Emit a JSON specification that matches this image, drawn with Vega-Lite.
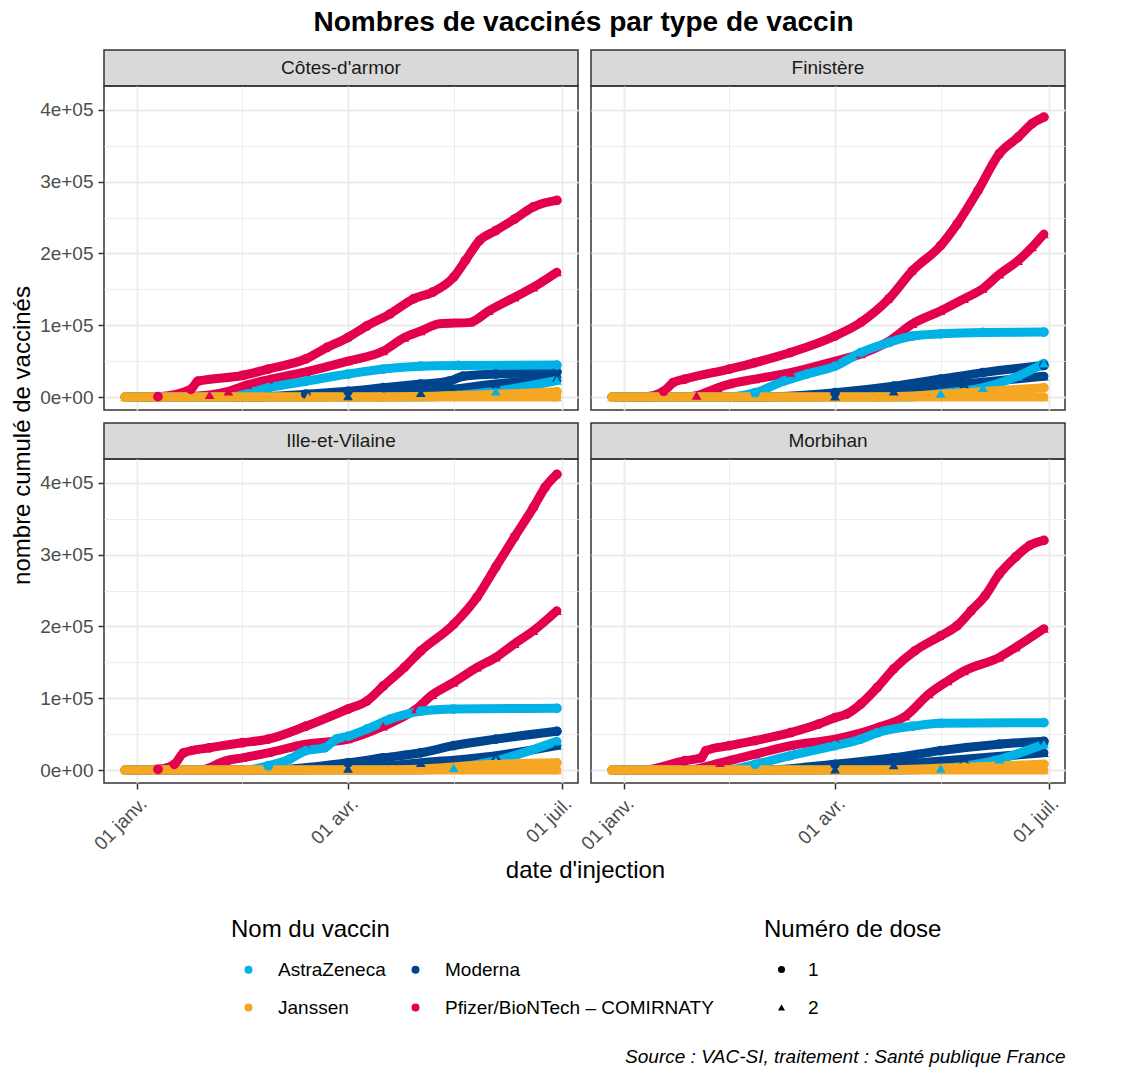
{
"$schema": "https://vega.github.io/schema/vega-lite/v6.json",
"background": "white",
"padding": {"left": 9, "top": 9, "right": 10, "bottom": 8},
"title": {"text": "Nombres de vaccinés par type de vaccin", "fontSize": 28, "fontWeight": "bold", "color": "#000000", "anchor": "middle", "frame": "bounds", "dx": 46, "offset": 12, "font": "Liberation Sans"},
"datasets": {"vac": [
{"dep":"22","date":"2020-12-27","vaccin":"Pfizer/BioNTech – COMIRNATY","dose":"1","n":0},
{"dep":"22","date":"2021-01-10","vaccin":"Pfizer/BioNTech – COMIRNATY","dose":"1","n":500},
{"dep":"22","date":"2021-01-24","vaccin":"Pfizer/BioNTech – COMIRNATY","dose":"1","n":10700},
{"dep":"22","date":"2021-01-27","vaccin":"Pfizer/BioNTech – COMIRNATY","dose":"1","n":22000},
{"dep":"22","date":"2021-02-15","vaccin":"Pfizer/BioNTech – COMIRNATY","dose":"1","n":30000},
{"dep":"22","date":"2021-02-26","vaccin":"Pfizer/BioNTech – COMIRNATY","dose":"1","n":39000},
{"dep":"22","date":"2021-03-14","vaccin":"Pfizer/BioNTech – COMIRNATY","dose":"1","n":53000},
{"dep":"22","date":"2021-03-23","vaccin":"Pfizer/BioNTech – COMIRNATY","dose":"1","n":69000},
{"dep":"22","date":"2021-04-01","vaccin":"Pfizer/BioNTech – COMIRNATY","dose":"1","n":83000},
{"dep":"22","date":"2021-04-09","vaccin":"Pfizer/BioNTech – COMIRNATY","dose":"1","n":99000},
{"dep":"22","date":"2021-04-19","vaccin":"Pfizer/BioNTech – COMIRNATY","dose":"1","n":116000},
{"dep":"22","date":"2021-04-29","vaccin":"Pfizer/BioNTech – COMIRNATY","dose":"1","n":137000},
{"dep":"22","date":"2021-05-07","vaccin":"Pfizer/BioNTech – COMIRNATY","dose":"1","n":146000},
{"dep":"22","date":"2021-05-16","vaccin":"Pfizer/BioNTech – COMIRNATY","dose":"1","n":167000},
{"dep":"22","date":"2021-05-21","vaccin":"Pfizer/BioNTech – COMIRNATY","dose":"1","n":190000},
{"dep":"22","date":"2021-05-27","vaccin":"Pfizer/BioNTech – COMIRNATY","dose":"1","n":218000},
{"dep":"22","date":"2021-06-03","vaccin":"Pfizer/BioNTech – COMIRNATY","dose":"1","n":232000},
{"dep":"22","date":"2021-06-11","vaccin":"Pfizer/BioNTech – COMIRNATY","dose":"1","n":248000},
{"dep":"22","date":"2021-06-19","vaccin":"Pfizer/BioNTech – COMIRNATY","dose":"1","n":265000},
{"dep":"22","date":"2021-06-29","vaccin":"Pfizer/BioNTech – COMIRNATY","dose":"1","n":274000},
{"dep":"22","date":"2020-12-27","vaccin":"Pfizer/BioNTech – COMIRNATY","dose":"2","n":0},
{"dep":"22","date":"2021-01-17","vaccin":"Pfizer/BioNTech – COMIRNATY","dose":"2","n":0},
{"dep":"22","date":"2021-02-01","vaccin":"Pfizer/BioNTech – COMIRNATY","dose":"2","n":3000},
{"dep":"22","date":"2021-02-09","vaccin":"Pfizer/BioNTech – COMIRNATY","dose":"2","n":8000},
{"dep":"22","date":"2021-02-17","vaccin":"Pfizer/BioNTech – COMIRNATY","dose":"2","n":17000},
{"dep":"22","date":"2021-02-26","vaccin":"Pfizer/BioNTech – COMIRNATY","dose":"2","n":24000},
{"dep":"22","date":"2021-03-14","vaccin":"Pfizer/BioNTech – COMIRNATY","dose":"2","n":35000},
{"dep":"22","date":"2021-04-01","vaccin":"Pfizer/BioNTech – COMIRNATY","dose":"2","n":50000},
{"dep":"22","date":"2021-04-16","vaccin":"Pfizer/BioNTech – COMIRNATY","dose":"2","n":64000},
{"dep":"22","date":"2021-04-25","vaccin":"Pfizer/BioNTech – COMIRNATY","dose":"2","n":83000},
{"dep":"22","date":"2021-05-02","vaccin":"Pfizer/BioNTech – COMIRNATY","dose":"2","n":92000},
{"dep":"22","date":"2021-05-10","vaccin":"Pfizer/BioNTech – COMIRNATY","dose":"2","n":102000},
{"dep":"22","date":"2021-05-23","vaccin":"Pfizer/BioNTech – COMIRNATY","dose":"2","n":104000},
{"dep":"22","date":"2021-05-31","vaccin":"Pfizer/BioNTech – COMIRNATY","dose":"2","n":120000},
{"dep":"22","date":"2021-06-11","vaccin":"Pfizer/BioNTech – COMIRNATY","dose":"2","n":139000},
{"dep":"22","date":"2021-06-19","vaccin":"Pfizer/BioNTech – COMIRNATY","dose":"2","n":153000},
{"dep":"22","date":"2021-06-29","vaccin":"Pfizer/BioNTech – COMIRNATY","dose":"2","n":174000},
{"dep":"22","date":"2020-12-27","vaccin":"Moderna","dose":"1","n":0},
{"dep":"22","date":"2021-02-20","vaccin":"Moderna","dose":"1","n":0},
{"dep":"22","date":"2021-03-14","vaccin":"Moderna","dose":"1","n":4000},
{"dep":"22","date":"2021-04-01","vaccin":"Moderna","dose":"1","n":8000},
{"dep":"22","date":"2021-04-16","vaccin":"Moderna","dose":"1","n":13000},
{"dep":"22","date":"2021-05-02","vaccin":"Moderna","dose":"1","n":18000},
{"dep":"22","date":"2021-05-14","vaccin":"Moderna","dose":"1","n":22000},
{"dep":"22","date":"2021-05-20","vaccin":"Moderna","dose":"1","n":29000},
{"dep":"22","date":"2021-06-03","vaccin":"Moderna","dose":"1","n":32000},
{"dep":"22","date":"2021-06-29","vaccin":"Moderna","dose":"1","n":35000},
{"dep":"22","date":"2020-12-27","vaccin":"Moderna","dose":"2","n":0},
{"dep":"22","date":"2021-03-10","vaccin":"Moderna","dose":"2","n":0},
{"dep":"22","date":"2021-04-01","vaccin":"Moderna","dose":"2","n":1400},
{"dep":"22","date":"2021-05-02","vaccin":"Moderna","dose":"2","n":6000},
{"dep":"22","date":"2021-06-03","vaccin":"Moderna","dose":"2","n":18000},
{"dep":"22","date":"2021-06-29","vaccin":"Moderna","dose":"2","n":27000},
{"dep":"22","date":"2020-12-27","vaccin":"AstraZeneca","dose":"1","n":0},
{"dep":"22","date":"2021-02-09","vaccin":"AstraZeneca","dose":"1","n":0},
{"dep":"22","date":"2021-02-26","vaccin":"AstraZeneca","dose":"1","n":13000},
{"dep":"22","date":"2021-03-14","vaccin":"AstraZeneca","dose":"1","n":22000},
{"dep":"22","date":"2021-04-01","vaccin":"AstraZeneca","dose":"1","n":32000},
{"dep":"22","date":"2021-04-16","vaccin":"AstraZeneca","dose":"1","n":39000},
{"dep":"22","date":"2021-05-02","vaccin":"AstraZeneca","dose":"1","n":43000},
{"dep":"22","date":"2021-05-18","vaccin":"AstraZeneca","dose":"1","n":44000},
{"dep":"22","date":"2021-06-29","vaccin":"AstraZeneca","dose":"1","n":44500},
{"dep":"22","date":"2020-12-27","vaccin":"AstraZeneca","dose":"2","n":0},
{"dep":"22","date":"2021-05-01","vaccin":"AstraZeneca","dose":"2","n":0},
{"dep":"22","date":"2021-06-03","vaccin":"AstraZeneca","dose":"2","n":8000},
{"dep":"22","date":"2021-06-29","vaccin":"AstraZeneca","dose":"2","n":23000},
{"dep":"22","date":"2020-12-27","vaccin":"Janssen","dose":"1","n":0},
{"dep":"22","date":"2021-04-15","vaccin":"Janssen","dose":"1","n":0},
{"dep":"22","date":"2021-05-18","vaccin":"Janssen","dose":"1","n":2000},
{"dep":"22","date":"2021-06-29","vaccin":"Janssen","dose":"1","n":7500},
{"dep":"22","date":"2020-12-27","vaccin":"Janssen","dose":"2","n":0},
{"dep":"22","date":"2021-03-15","vaccin":"Janssen","dose":"2","n":0},
{"dep":"22","date":"2021-06-29","vaccin":"Janssen","dose":"2","n":0},
{"dep":"29","date":"2020-12-27","vaccin":"Pfizer/BioNTech – COMIRNATY","dose":"1","n":0},
{"dep":"29","date":"2021-01-09","vaccin":"Pfizer/BioNTech – COMIRNATY","dose":"1","n":0},
{"dep":"29","date":"2021-01-18","vaccin":"Pfizer/BioNTech – COMIRNATY","dose":"1","n":8000},
{"dep":"29","date":"2021-01-22","vaccin":"Pfizer/BioNTech – COMIRNATY","dose":"1","n":20000},
{"dep":"29","date":"2021-01-27","vaccin":"Pfizer/BioNTech – COMIRNATY","dose":"1","n":25000},
{"dep":"29","date":"2021-02-15","vaccin":"Pfizer/BioNTech – COMIRNATY","dose":"1","n":39000},
{"dep":"29","date":"2021-02-26","vaccin":"Pfizer/BioNTech – COMIRNATY","dose":"1","n":48000},
{"dep":"29","date":"2021-03-13","vaccin":"Pfizer/BioNTech – COMIRNATY","dose":"1","n":62000},
{"dep":"29","date":"2021-04-01","vaccin":"Pfizer/BioNTech – COMIRNATY","dose":"1","n":85000},
{"dep":"29","date":"2021-04-12","vaccin":"Pfizer/BioNTech – COMIRNATY","dose":"1","n":104000},
{"dep":"29","date":"2021-04-24","vaccin":"Pfizer/BioNTech – COMIRNATY","dose":"1","n":137000},
{"dep":"29","date":"2021-05-04","vaccin":"Pfizer/BioNTech – COMIRNATY","dose":"1","n":176000},
{"dep":"29","date":"2021-05-16","vaccin":"Pfizer/BioNTech – COMIRNATY","dose":"1","n":211000},
{"dep":"29","date":"2021-05-23","vaccin":"Pfizer/BioNTech – COMIRNATY","dose":"1","n":241000},
{"dep":"29","date":"2021-06-01","vaccin":"Pfizer/BioNTech – COMIRNATY","dose":"1","n":288000},
{"dep":"29","date":"2021-06-10","vaccin":"Pfizer/BioNTech – COMIRNATY","dose":"1","n":339000},
{"dep":"29","date":"2021-06-18","vaccin":"Pfizer/BioNTech – COMIRNATY","dose":"1","n":362000},
{"dep":"29","date":"2021-06-24","vaccin":"Pfizer/BioNTech – COMIRNATY","dose":"1","n":381000},
{"dep":"29","date":"2021-06-29","vaccin":"Pfizer/BioNTech – COMIRNATY","dose":"1","n":390000},
{"dep":"29","date":"2020-12-27","vaccin":"Pfizer/BioNTech – COMIRNATY","dose":"2","n":0},
{"dep":"29","date":"2021-01-28","vaccin":"Pfizer/BioNTech – COMIRNATY","dose":"2","n":0},
{"dep":"29","date":"2021-02-01","vaccin":"Pfizer/BioNTech – COMIRNATY","dose":"2","n":2000},
{"dep":"29","date":"2021-02-10","vaccin":"Pfizer/BioNTech – COMIRNATY","dose":"2","n":13000},
{"dep":"29","date":"2021-02-15","vaccin":"Pfizer/BioNTech – COMIRNATY","dose":"2","n":18000},
{"dep":"29","date":"2021-02-26","vaccin":"Pfizer/BioNTech – COMIRNATY","dose":"2","n":25000},
{"dep":"29","date":"2021-03-13","vaccin":"Pfizer/BioNTech – COMIRNATY","dose":"2","n":34000},
{"dep":"29","date":"2021-04-01","vaccin":"Pfizer/BioNTech – COMIRNATY","dose":"2","n":50000},
{"dep":"29","date":"2021-04-12","vaccin":"Pfizer/BioNTech – COMIRNATY","dose":"2","n":60000},
{"dep":"29","date":"2021-04-24","vaccin":"Pfizer/BioNTech – COMIRNATY","dose":"2","n":78000},
{"dep":"29","date":"2021-05-04","vaccin":"Pfizer/BioNTech – COMIRNATY","dose":"2","n":102000},
{"dep":"29","date":"2021-05-16","vaccin":"Pfizer/BioNTech – COMIRNATY","dose":"2","n":120000},
{"dep":"29","date":"2021-05-26","vaccin":"Pfizer/BioNTech – COMIRNATY","dose":"2","n":137000},
{"dep":"29","date":"2021-06-03","vaccin":"Pfizer/BioNTech – COMIRNATY","dose":"2","n":151000},
{"dep":"29","date":"2021-06-10","vaccin":"Pfizer/BioNTech – COMIRNATY","dose":"2","n":171000},
{"dep":"29","date":"2021-06-18","vaccin":"Pfizer/BioNTech – COMIRNATY","dose":"2","n":190000},
{"dep":"29","date":"2021-06-24","vaccin":"Pfizer/BioNTech – COMIRNATY","dose":"2","n":209000},
{"dep":"29","date":"2021-06-29","vaccin":"Pfizer/BioNTech – COMIRNATY","dose":"2","n":227000},
{"dep":"29","date":"2020-12-27","vaccin":"Moderna","dose":"1","n":0},
{"dep":"29","date":"2021-03-01","vaccin":"Moderna","dose":"1","n":0},
{"dep":"29","date":"2021-04-01","vaccin":"Moderna","dose":"1","n":6000},
{"dep":"29","date":"2021-04-26","vaccin":"Moderna","dose":"1","n":15000},
{"dep":"29","date":"2021-05-16","vaccin":"Moderna","dose":"1","n":25000},
{"dep":"29","date":"2021-06-03","vaccin":"Moderna","dose":"1","n":34000},
{"dep":"29","date":"2021-06-29","vaccin":"Moderna","dose":"1","n":44000},
{"dep":"29","date":"2020-12-27","vaccin":"Moderna","dose":"2","n":0},
{"dep":"29","date":"2021-03-20","vaccin":"Moderna","dose":"2","n":0},
{"dep":"29","date":"2021-04-01","vaccin":"Moderna","dose":"2","n":1000},
{"dep":"29","date":"2021-04-26","vaccin":"Moderna","dose":"2","n":8000},
{"dep":"29","date":"2021-05-26","vaccin":"Moderna","dose":"2","n":18000},
{"dep":"29","date":"2021-06-29","vaccin":"Moderna","dose":"2","n":29000},
{"dep":"29","date":"2020-12-27","vaccin":"AstraZeneca","dose":"1","n":0},
{"dep":"29","date":"2021-02-14","vaccin":"AstraZeneca","dose":"1","n":0},
{"dep":"29","date":"2021-02-26","vaccin":"AstraZeneca","dose":"1","n":6000},
{"dep":"29","date":"2021-03-10","vaccin":"AstraZeneca","dose":"1","n":22000},
{"dep":"29","date":"2021-03-20","vaccin":"AstraZeneca","dose":"1","n":32000},
{"dep":"29","date":"2021-04-01","vaccin":"AstraZeneca","dose":"1","n":43000},
{"dep":"29","date":"2021-04-12","vaccin":"AstraZeneca","dose":"1","n":62000},
{"dep":"29","date":"2021-04-24","vaccin":"AstraZeneca","dose":"1","n":76000},
{"dep":"29","date":"2021-05-04","vaccin":"AstraZeneca","dose":"1","n":85000},
{"dep":"29","date":"2021-05-16","vaccin":"AstraZeneca","dose":"1","n":88000},
{"dep":"29","date":"2021-06-03","vaccin":"AstraZeneca","dose":"1","n":90000},
{"dep":"29","date":"2021-06-29","vaccin":"AstraZeneca","dose":"1","n":90500},
{"dep":"29","date":"2020-12-27","vaccin":"AstraZeneca","dose":"2","n":0},
{"dep":"29","date":"2021-05-01","vaccin":"AstraZeneca","dose":"2","n":0},
{"dep":"29","date":"2021-05-16","vaccin":"AstraZeneca","dose":"2","n":5000},
{"dep":"29","date":"2021-06-03","vaccin":"AstraZeneca","dose":"2","n":13000},
{"dep":"29","date":"2021-06-18","vaccin":"AstraZeneca","dose":"2","n":29000},
{"dep":"29","date":"2021-06-29","vaccin":"AstraZeneca","dose":"2","n":47000},
{"dep":"29","date":"2020-12-27","vaccin":"Janssen","dose":"1","n":0},
{"dep":"29","date":"2021-04-20","vaccin":"Janssen","dose":"1","n":0},
{"dep":"29","date":"2021-05-26","vaccin":"Janssen","dose":"1","n":6000},
{"dep":"29","date":"2021-06-29","vaccin":"Janssen","dose":"1","n":13000},
{"dep":"29","date":"2020-12-27","vaccin":"Janssen","dose":"2","n":0},
{"dep":"29","date":"2021-03-15","vaccin":"Janssen","dose":"2","n":0},
{"dep":"29","date":"2021-06-29","vaccin":"Janssen","dose":"2","n":0},
{"dep":"35","date":"2020-12-27","vaccin":"Pfizer/BioNTech – COMIRNATY","dose":"1","n":0},
{"dep":"35","date":"2021-01-10","vaccin":"Pfizer/BioNTech – COMIRNATY","dose":"1","n":1000},
{"dep":"35","date":"2021-01-17","vaccin":"Pfizer/BioNTech – COMIRNATY","dose":"1","n":8000},
{"dep":"35","date":"2021-01-21","vaccin":"Pfizer/BioNTech – COMIRNATY","dose":"1","n":24000},
{"dep":"35","date":"2021-02-01","vaccin":"Pfizer/BioNTech – COMIRNATY","dose":"1","n":31000},
{"dep":"35","date":"2021-02-15","vaccin":"Pfizer/BioNTech – COMIRNATY","dose":"1","n":38000},
{"dep":"35","date":"2021-02-26","vaccin":"Pfizer/BioNTech – COMIRNATY","dose":"1","n":43000},
{"dep":"35","date":"2021-03-14","vaccin":"Pfizer/BioNTech – COMIRNATY","dose":"1","n":61000},
{"dep":"35","date":"2021-04-01","vaccin":"Pfizer/BioNTech – COMIRNATY","dose":"1","n":85000},
{"dep":"35","date":"2021-04-09","vaccin":"Pfizer/BioNTech – COMIRNATY","dose":"1","n":96000},
{"dep":"35","date":"2021-04-16","vaccin":"Pfizer/BioNTech – COMIRNATY","dose":"1","n":117000},
{"dep":"35","date":"2021-04-25","vaccin":"Pfizer/BioNTech – COMIRNATY","dose":"1","n":143000},
{"dep":"35","date":"2021-05-02","vaccin":"Pfizer/BioNTech – COMIRNATY","dose":"1","n":166000},
{"dep":"35","date":"2021-05-16","vaccin":"Pfizer/BioNTech – COMIRNATY","dose":"1","n":203000},
{"dep":"35","date":"2021-05-26","vaccin":"Pfizer/BioNTech – COMIRNATY","dose":"1","n":241000},
{"dep":"35","date":"2021-06-03","vaccin":"Pfizer/BioNTech – COMIRNATY","dose":"1","n":283000},
{"dep":"35","date":"2021-06-11","vaccin":"Pfizer/BioNTech – COMIRNATY","dose":"1","n":325000},
{"dep":"35","date":"2021-06-19","vaccin":"Pfizer/BioNTech – COMIRNATY","dose":"1","n":366000},
{"dep":"35","date":"2021-06-24","vaccin":"Pfizer/BioNTech – COMIRNATY","dose":"1","n":394000},
{"dep":"35","date":"2021-06-29","vaccin":"Pfizer/BioNTech – COMIRNATY","dose":"1","n":412000},
{"dep":"35","date":"2020-12-27","vaccin":"Pfizer/BioNTech – COMIRNATY","dose":"2","n":0},
{"dep":"35","date":"2021-01-28","vaccin":"Pfizer/BioNTech – COMIRNATY","dose":"2","n":0},
{"dep":"35","date":"2021-02-08","vaccin":"Pfizer/BioNTech – COMIRNATY","dose":"2","n":13000},
{"dep":"35","date":"2021-02-15","vaccin":"Pfizer/BioNTech – COMIRNATY","dose":"2","n":17000},
{"dep":"35","date":"2021-02-26","vaccin":"Pfizer/BioNTech – COMIRNATY","dose":"2","n":24000},
{"dep":"35","date":"2021-03-14","vaccin":"Pfizer/BioNTech – COMIRNATY","dose":"2","n":36000},
{"dep":"35","date":"2021-04-01","vaccin":"Pfizer/BioNTech – COMIRNATY","dose":"2","n":43000},
{"dep":"35","date":"2021-04-16","vaccin":"Pfizer/BioNTech – COMIRNATY","dose":"2","n":61000},
{"dep":"35","date":"2021-04-30","vaccin":"Pfizer/BioNTech – COMIRNATY","dose":"2","n":85000},
{"dep":"35","date":"2021-05-07","vaccin":"Pfizer/BioNTech – COMIRNATY","dose":"2","n":105000},
{"dep":"35","date":"2021-05-16","vaccin":"Pfizer/BioNTech – COMIRNATY","dose":"2","n":122000},
{"dep":"35","date":"2021-05-26","vaccin":"Pfizer/BioNTech – COMIRNATY","dose":"2","n":143000},
{"dep":"35","date":"2021-06-03","vaccin":"Pfizer/BioNTech – COMIRNATY","dose":"2","n":157000},
{"dep":"35","date":"2021-06-11","vaccin":"Pfizer/BioNTech – COMIRNATY","dose":"2","n":176000},
{"dep":"35","date":"2021-06-19","vaccin":"Pfizer/BioNTech – COMIRNATY","dose":"2","n":194000},
{"dep":"35","date":"2021-06-29","vaccin":"Pfizer/BioNTech – COMIRNATY","dose":"2","n":222000},
{"dep":"35","date":"2020-12-27","vaccin":"Moderna","dose":"1","n":0},
{"dep":"35","date":"2021-02-25","vaccin":"Moderna","dose":"1","n":0},
{"dep":"35","date":"2021-04-01","vaccin":"Moderna","dose":"1","n":10000},
{"dep":"35","date":"2021-04-16","vaccin":"Moderna","dose":"1","n":17000},
{"dep":"35","date":"2021-05-02","vaccin":"Moderna","dose":"1","n":24000},
{"dep":"35","date":"2021-05-16","vaccin":"Moderna","dose":"1","n":34000},
{"dep":"35","date":"2021-06-03","vaccin":"Moderna","dose":"1","n":43000},
{"dep":"35","date":"2021-06-29","vaccin":"Moderna","dose":"1","n":54000},
{"dep":"35","date":"2020-12-27","vaccin":"Moderna","dose":"2","n":0},
{"dep":"35","date":"2021-03-10","vaccin":"Moderna","dose":"2","n":0},
{"dep":"35","date":"2021-04-01","vaccin":"Moderna","dose":"2","n":2000},
{"dep":"35","date":"2021-05-02","vaccin":"Moderna","dose":"2","n":10000},
{"dep":"35","date":"2021-06-03","vaccin":"Moderna","dose":"2","n":20000},
{"dep":"35","date":"2021-06-29","vaccin":"Moderna","dose":"2","n":34000},
{"dep":"35","date":"2020-12-27","vaccin":"AstraZeneca","dose":"1","n":0},
{"dep":"35","date":"2021-02-16","vaccin":"AstraZeneca","dose":"1","n":0},
{"dep":"35","date":"2021-02-26","vaccin":"AstraZeneca","dose":"1","n":6000},
{"dep":"35","date":"2021-03-07","vaccin":"AstraZeneca","dose":"1","n":15000},
{"dep":"35","date":"2021-03-14","vaccin":"AstraZeneca","dose":"1","n":27000},
{"dep":"35","date":"2021-03-22","vaccin":"AstraZeneca","dose":"1","n":31000},
{"dep":"35","date":"2021-03-27","vaccin":"AstraZeneca","dose":"1","n":43000},
{"dep":"35","date":"2021-04-01","vaccin":"AstraZeneca","dose":"1","n":47000},
{"dep":"35","date":"2021-04-09","vaccin":"AstraZeneca","dose":"1","n":57000},
{"dep":"35","date":"2021-04-19","vaccin":"AstraZeneca","dose":"1","n":71000},
{"dep":"35","date":"2021-05-02","vaccin":"AstraZeneca","dose":"1","n":82000},
{"dep":"35","date":"2021-05-16","vaccin":"AstraZeneca","dose":"1","n":85000},
{"dep":"35","date":"2021-06-29","vaccin":"AstraZeneca","dose":"1","n":86000},
{"dep":"35","date":"2020-12-27","vaccin":"AstraZeneca","dose":"2","n":0},
{"dep":"35","date":"2021-05-01","vaccin":"AstraZeneca","dose":"2","n":0},
{"dep":"35","date":"2021-05-16","vaccin":"AstraZeneca","dose":"2","n":3000},
{"dep":"35","date":"2021-06-03","vaccin":"AstraZeneca","dose":"2","n":13000},
{"dep":"35","date":"2021-06-29","vaccin":"AstraZeneca","dose":"2","n":40000},
{"dep":"35","date":"2020-12-27","vaccin":"Janssen","dose":"1","n":0},
{"dep":"35","date":"2021-04-20","vaccin":"Janssen","dose":"1","n":0},
{"dep":"35","date":"2021-06-03","vaccin":"Janssen","dose":"1","n":8000},
{"dep":"35","date":"2021-06-29","vaccin":"Janssen","dose":"1","n":10000},
{"dep":"35","date":"2020-12-27","vaccin":"Janssen","dose":"2","n":0},
{"dep":"35","date":"2021-03-15","vaccin":"Janssen","dose":"2","n":0},
{"dep":"35","date":"2021-06-29","vaccin":"Janssen","dose":"2","n":0},
{"dep":"56","date":"2020-12-27","vaccin":"Pfizer/BioNTech – COMIRNATY","dose":"1","n":0},
{"dep":"56","date":"2021-01-09","vaccin":"Pfizer/BioNTech – COMIRNATY","dose":"1","n":0},
{"dep":"56","date":"2021-01-27","vaccin":"Pfizer/BioNTech – COMIRNATY","dose":"1","n":13000},
{"dep":"56","date":"2021-02-03","vaccin":"Pfizer/BioNTech – COMIRNATY","dose":"1","n":17000},
{"dep":"56","date":"2021-02-05","vaccin":"Pfizer/BioNTech – COMIRNATY","dose":"1","n":27000},
{"dep":"56","date":"2021-02-15","vaccin":"Pfizer/BioNTech – COMIRNATY","dose":"1","n":34000},
{"dep":"56","date":"2021-02-26","vaccin":"Pfizer/BioNTech – COMIRNATY","dose":"1","n":41000},
{"dep":"56","date":"2021-03-13","vaccin":"Pfizer/BioNTech – COMIRNATY","dose":"1","n":52000},
{"dep":"56","date":"2021-03-25","vaccin":"Pfizer/BioNTech – COMIRNATY","dose":"1","n":64000},
{"dep":"56","date":"2021-04-01","vaccin":"Pfizer/BioNTech – COMIRNATY","dose":"1","n":73000},
{"dep":"56","date":"2021-04-06","vaccin":"Pfizer/BioNTech – COMIRNATY","dose":"1","n":78000},
{"dep":"56","date":"2021-04-12","vaccin":"Pfizer/BioNTech – COMIRNATY","dose":"1","n":92000},
{"dep":"56","date":"2021-04-19","vaccin":"Pfizer/BioNTech – COMIRNATY","dose":"1","n":115000},
{"dep":"56","date":"2021-04-26","vaccin":"Pfizer/BioNTech – COMIRNATY","dose":"1","n":141000},
{"dep":"56","date":"2021-05-05","vaccin":"Pfizer/BioNTech – COMIRNATY","dose":"1","n":166000},
{"dep":"56","date":"2021-05-16","vaccin":"Pfizer/BioNTech – COMIRNATY","dose":"1","n":187000},
{"dep":"56","date":"2021-05-23","vaccin":"Pfizer/BioNTech – COMIRNATY","dose":"1","n":201000},
{"dep":"56","date":"2021-05-29","vaccin":"Pfizer/BioNTech – COMIRNATY","dose":"1","n":222000},
{"dep":"56","date":"2021-06-04","vaccin":"Pfizer/BioNTech – COMIRNATY","dose":"1","n":243000},
{"dep":"56","date":"2021-06-10","vaccin":"Pfizer/BioNTech – COMIRNATY","dose":"1","n":273000},
{"dep":"56","date":"2021-06-17","vaccin":"Pfizer/BioNTech – COMIRNATY","dose":"1","n":297000},
{"dep":"56","date":"2021-06-23","vaccin":"Pfizer/BioNTech – COMIRNATY","dose":"1","n":313000},
{"dep":"56","date":"2021-06-29","vaccin":"Pfizer/BioNTech – COMIRNATY","dose":"1","n":320000},
{"dep":"56","date":"2020-12-27","vaccin":"Pfizer/BioNTech – COMIRNATY","dose":"2","n":0},
{"dep":"56","date":"2021-01-28","vaccin":"Pfizer/BioNTech – COMIRNATY","dose":"2","n":0},
{"dep":"56","date":"2021-02-11","vaccin":"Pfizer/BioNTech – COMIRNATY","dose":"2","n":10000},
{"dep":"56","date":"2021-02-26","vaccin":"Pfizer/BioNTech – COMIRNATY","dose":"2","n":22000},
{"dep":"56","date":"2021-03-13","vaccin":"Pfizer/BioNTech – COMIRNATY","dose":"2","n":34000},
{"dep":"56","date":"2021-04-01","vaccin":"Pfizer/BioNTech – COMIRNATY","dose":"2","n":43000},
{"dep":"56","date":"2021-04-19","vaccin":"Pfizer/BioNTech – COMIRNATY","dose":"2","n":59000},
{"dep":"56","date":"2021-05-01","vaccin":"Pfizer/BioNTech – COMIRNATY","dose":"2","n":75000},
{"dep":"56","date":"2021-05-11","vaccin":"Pfizer/BioNTech – COMIRNATY","dose":"2","n":106000},
{"dep":"56","date":"2021-05-19","vaccin":"Pfizer/BioNTech – COMIRNATY","dose":"2","n":124000},
{"dep":"56","date":"2021-05-26","vaccin":"Pfizer/BioNTech – COMIRNATY","dose":"2","n":138000},
{"dep":"56","date":"2021-06-10","vaccin":"Pfizer/BioNTech – COMIRNATY","dose":"2","n":157000},
{"dep":"56","date":"2021-06-17","vaccin":"Pfizer/BioNTech – COMIRNATY","dose":"2","n":171000},
{"dep":"56","date":"2021-06-29","vaccin":"Pfizer/BioNTech – COMIRNATY","dose":"2","n":197000},
{"dep":"56","date":"2020-12-27","vaccin":"Moderna","dose":"1","n":0},
{"dep":"56","date":"2021-03-01","vaccin":"Moderna","dose":"1","n":0},
{"dep":"56","date":"2021-04-01","vaccin":"Moderna","dose":"1","n":8000},
{"dep":"56","date":"2021-04-26","vaccin":"Moderna","dose":"1","n":17000},
{"dep":"56","date":"2021-05-16","vaccin":"Moderna","dose":"1","n":27000},
{"dep":"56","date":"2021-06-10","vaccin":"Moderna","dose":"1","n":36000},
{"dep":"56","date":"2021-06-29","vaccin":"Moderna","dose":"1","n":40000},
{"dep":"56","date":"2020-12-27","vaccin":"Moderna","dose":"2","n":0},
{"dep":"56","date":"2021-03-20","vaccin":"Moderna","dose":"2","n":0},
{"dep":"56","date":"2021-04-01","vaccin":"Moderna","dose":"2","n":1000},
{"dep":"56","date":"2021-04-26","vaccin":"Moderna","dose":"2","n":7000},
{"dep":"56","date":"2021-05-26","vaccin":"Moderna","dose":"2","n":15000},
{"dep":"56","date":"2021-06-29","vaccin":"Moderna","dose":"2","n":24000},
{"dep":"56","date":"2020-12-27","vaccin":"AstraZeneca","dose":"1","n":0},
{"dep":"56","date":"2021-02-14","vaccin":"AstraZeneca","dose":"1","n":0},
{"dep":"56","date":"2021-02-26","vaccin":"AstraZeneca","dose":"1","n":8000},
{"dep":"56","date":"2021-03-13","vaccin":"AstraZeneca","dose":"1","n":20000},
{"dep":"56","date":"2021-04-01","vaccin":"AstraZeneca","dose":"1","n":34000},
{"dep":"56","date":"2021-04-12","vaccin":"AstraZeneca","dose":"1","n":43000},
{"dep":"56","date":"2021-04-19","vaccin":"AstraZeneca","dose":"1","n":52000},
{"dep":"56","date":"2021-05-04","vaccin":"AstraZeneca","dose":"1","n":61000},
{"dep":"56","date":"2021-05-16","vaccin":"AstraZeneca","dose":"1","n":65000},
{"dep":"56","date":"2021-06-29","vaccin":"AstraZeneca","dose":"1","n":66000},
{"dep":"56","date":"2020-12-27","vaccin":"AstraZeneca","dose":"2","n":0},
{"dep":"56","date":"2021-05-01","vaccin":"AstraZeneca","dose":"2","n":0},
{"dep":"56","date":"2021-05-16","vaccin":"AstraZeneca","dose":"2","n":2000},
{"dep":"56","date":"2021-06-10","vaccin":"AstraZeneca","dose":"2","n":15000},
{"dep":"56","date":"2021-06-29","vaccin":"AstraZeneca","dose":"2","n":36000},
{"dep":"56","date":"2020-12-27","vaccin":"Janssen","dose":"1","n":0},
{"dep":"56","date":"2021-04-20","vaccin":"Janssen","dose":"1","n":0},
{"dep":"56","date":"2021-05-26","vaccin":"Janssen","dose":"1","n":4000},
{"dep":"56","date":"2021-06-29","vaccin":"Janssen","dose":"1","n":8000},
{"dep":"56","date":"2020-12-27","vaccin":"Janssen","dose":"2","n":0},
{"dep":"56","date":"2021-03-15","vaccin":"Janssen","dose":"2","n":0},
{"dep":"56","date":"2021-06-29","vaccin":"Janssen","dose":"2","n":0}
]},
"columns": 2,
"spacing": {"row": 0, "column": 13},
"bounds": "flush",
"concat": [
 {"data": {"values": [{"lab": "Côtes-d'armor"}]}, "width": 474, "height": 36,
  "view": {"fill": "#D9D9D9", "stroke": "#333333", "strokeWidth": 1.5},
  "mark": {"type": "text", "fontSize": 19, "color": "#1A1A1A", "font": "Liberation Sans"},
  "encoding": {"text": {"field": "lab"}}},
 {"data": {"values": [{"lab": "Finistère"}]}, "width": 474, "height": 36,
  "view": {"fill": "#D9D9D9", "stroke": "#333333", "strokeWidth": 1.5},
  "mark": {"type": "text", "fontSize": 19, "color": "#1A1A1A", "font": "Liberation Sans"},
  "encoding": {"text": {"field": "lab"}}},
 {"width": 474, "height": 324,
  "view": {"stroke": "#333333", "strokeWidth": 1.5},
  "data": {"name": "vac"},
  "transform": [{"filter": {"field": "dep", "equal": "22"}}],
  "encoding": {
   "x": {"field": "date", "type": "temporal", "scale": {"type": "utc", "domain": [{"year":2020,"month":12,"date":18,"utc":true},{"year":2021,"month":7,"date":8,"utc":true}]},
     "axis": {"title": null, "labels": false, "ticks": false,
       "values": [{"year":2021,"month":1,"date":1,"utc":true},{"year":2021,"month":2,"date":15,"utc":true},{"year":2021,"month":4,"date":1,"utc":true},{"year":2021,"month":5,"date":16,"utc":true},{"year":2021,"month":7,"date":1,"utc":true}],
       "gridWidth": {"condition": {"test": "utcmonth(datum.value) % 3 === 0", "value": 1.8}, "value": 0.9}}},
   "y": {"field": "n", "type": "quantitative", "scale": {"domain": [-18100, 433400], "nice": false, "zero": false},
     "axis": {"title": "nombre cumulé de vaccinés", "titleX": -70, "titleY": 349, "titleAngle": 270, "titleAlign": "center", "titleBaseline": "bottom",
       "values": [0,50000,100000,150000,200000,250000,300000,350000,400000],
       "labelExpr": "datum.value % 100000 === 0 ? (datum.value === 0 ? '0e+00' : (datum.value / 100000) + 'e+05') : ''",
       "tickOpacity": {"condition": {"test": "datum.value % 100000 === 0", "value": 1}, "value": 0},
       "gridWidth": {"condition": {"test": "datum.value % 100000 === 0", "value": 1.8}, "value": 0.9}}}
  },
  "layer": [
   {"mark": {"type": "line", "strokeWidth": 9, "strokeCap": "round", "strokeJoin": "round", "interpolate": "monotone"},
    "encoding": {"stroke": {"field": "vaccin", "type": "nominal", "scale": {"domain": ["Pfizer/BioNTech – COMIRNATY","Janssen","Moderna","AstraZeneca"], "range": ["#E2004F","#F5A623","#00448E","#00B2E5"]}, "legend": null},
     "detail": {"field": "dose"}}},
   {"transform": [{"filter": "datum.n > 0 || datum.vaccin === 'Janssen'"}],
    "mark": {"type": "point", "filled": true, "size": 95, "opacity": 1},
    "encoding": {"color": {"field": "vaccin", "type": "nominal", "scale": {"domain": ["AstraZeneca","Janssen","Moderna","Pfizer/BioNTech – COMIRNATY"], "range": ["#00B2E5","#F5A623","#00448E","#E2004F"]},
       "legend": {"title": "Nom du vaccin", "legendX": 127, "legendY": 868, "columns": 2, "symbolType": "circle", "labelOffset": 20, "columnPadding": 12}},
     "shape": {"field": "dose", "type": "nominal", "scale": {"domain": ["1","2"], "range": ["circle","triangle-up"]},
       "legend": {"title": "Numéro de dose", "legendX": 660, "legendY": 868, "symbolFillColor": "#000000", "symbolStrokeColor": "#000000", "symbolSize": 50, "labelOffset": 17}}}}
  ]},
 {"width": 474, "height": 324,
  "view": {"stroke": "#333333", "strokeWidth": 1.5},
  "data": {"name": "vac"},
  "transform": [{"filter": {"field": "dep", "equal": "29"}}],
  "encoding": {
   "x": {"field": "date", "type": "temporal", "scale": {"type": "utc", "domain": [{"year":2020,"month":12,"date":18,"utc":true},{"year":2021,"month":7,"date":8,"utc":true}]},
     "axis": {"title": null, "labels": false, "ticks": false,
       "values": [{"year":2021,"month":1,"date":1,"utc":true},{"year":2021,"month":2,"date":15,"utc":true},{"year":2021,"month":4,"date":1,"utc":true},{"year":2021,"month":5,"date":16,"utc":true},{"year":2021,"month":7,"date":1,"utc":true}],
       "gridWidth": {"condition": {"test": "utcmonth(datum.value) % 3 === 0", "value": 1.8}, "value": 0.9}}},
   "y": {"field": "n", "type": "quantitative", "scale": {"domain": [-18100, 433400], "nice": false, "zero": false},
     "axis": {"title": null, "labels": false, "ticks": false,
       "values": [0,50000,100000,150000,200000,250000,300000,350000,400000],
       "gridWidth": {"condition": {"test": "datum.value % 100000 === 0", "value": 1.8}, "value": 0.9}}}
  },
  "layer": [
   {"mark": {"type": "line", "strokeWidth": 9, "strokeCap": "round", "strokeJoin": "round", "interpolate": "monotone"},
    "encoding": {"stroke": {"field": "vaccin", "type": "nominal", "scale": {"domain": ["Pfizer/BioNTech – COMIRNATY","Janssen","Moderna","AstraZeneca"], "range": ["#E2004F","#F5A623","#00448E","#00B2E5"]}, "legend": null},
     "detail": {"field": "dose"}}},
   {"transform": [{"filter": "datum.n > 0 || datum.vaccin === 'Janssen'"}],
    "mark": {"type": "point", "filled": true, "size": 95, "opacity": 1},
    "encoding": {"color": {"field": "vaccin", "type": "nominal", "scale": {"domain": ["AstraZeneca","Janssen","Moderna","Pfizer/BioNTech – COMIRNATY"], "range": ["#00B2E5","#F5A623","#00448E","#E2004F"]}},
     "shape": {"field": "dose", "type": "nominal", "scale": {"domain": ["1","2"], "range": ["circle","triangle-up"]}}}}
  ]},
 {"width": 474, "height": 13, "data": {"values": [{"lab": ""}]}, "mark": {"type": "text"}, "encoding": {"text": {"field": "lab"}}},
 {"width": 474, "height": 13, "data": {"values": [{"lab": ""}]}, "mark": {"type": "text"}, "encoding": {"text": {"field": "lab"}}},
 {"data": {"values": [{"lab": "Ille-et-Vilaine"}]}, "width": 474, "height": 36,
  "view": {"fill": "#D9D9D9", "stroke": "#333333", "strokeWidth": 1.5},
  "mark": {"type": "text", "fontSize": 19, "color": "#1A1A1A", "font": "Liberation Sans"},
  "encoding": {"text": {"field": "lab"}}},
 {"data": {"values": [{"lab": "Morbihan"}]}, "width": 474, "height": 36,
  "view": {"fill": "#D9D9D9", "stroke": "#333333", "strokeWidth": 1.5},
  "mark": {"type": "text", "fontSize": 19, "color": "#1A1A1A", "font": "Liberation Sans"},
  "encoding": {"text": {"field": "lab"}}},
 {"width": 474, "height": 324,
  "view": {"stroke": "#333333", "strokeWidth": 1.5},
  "data": {"name": "vac"},
  "transform": [{"filter": {"field": "dep", "equal": "35"}}],
  "encoding": {
   "x": {"field": "date", "type": "temporal", "scale": {"type": "utc", "domain": [{"year":2020,"month":12,"date":18,"utc":true},{"year":2021,"month":7,"date":8,"utc":true}]},
     "axis": {"title": "date d'injection", "titleX": 481, "titleY": 87, "titleAlign": "center", "titleBaseline": "middle",
       "values": [{"year":2021,"month":1,"date":1,"utc":true},{"year":2021,"month":2,"date":15,"utc":true},{"year":2021,"month":4,"date":1,"utc":true},{"year":2021,"month":5,"date":16,"utc":true},{"year":2021,"month":7,"date":1,"utc":true}],
       "labelExpr": "utcmonth(datum.value) === 0 ? '01 janv.' : utcmonth(datum.value) === 3 ? '01 avr.' : utcmonth(datum.value) === 6 ? '01 juil.' : ''",
       "labelAngle": -45, "labelAlign": "right", "labelBaseline": "top",
       "tickOpacity": {"condition": {"test": "utcmonth(datum.value) % 3 === 0", "value": 1}, "value": 0},
       "gridWidth": {"condition": {"test": "utcmonth(datum.value) % 3 === 0", "value": 1.8}, "value": 0.9}}},
   "y": {"field": "n", "type": "quantitative", "scale": {"domain": [-18100, 433400], "nice": false, "zero": false},
     "axis": {"title": null,
       "values": [0,50000,100000,150000,200000,250000,300000,350000,400000],
       "labelExpr": "datum.value % 100000 === 0 ? (datum.value === 0 ? '0e+00' : (datum.value / 100000) + 'e+05') : ''",
       "tickOpacity": {"condition": {"test": "datum.value % 100000 === 0", "value": 1}, "value": 0},
       "gridWidth": {"condition": {"test": "datum.value % 100000 === 0", "value": 1.8}, "value": 0.9}}}
  },
  "layer": [
   {"mark": {"type": "line", "strokeWidth": 9, "strokeCap": "round", "strokeJoin": "round", "interpolate": "monotone"},
    "encoding": {"stroke": {"field": "vaccin", "type": "nominal", "scale": {"domain": ["Pfizer/BioNTech – COMIRNATY","Janssen","Moderna","AstraZeneca"], "range": ["#E2004F","#F5A623","#00448E","#00B2E5"]}, "legend": null},
     "detail": {"field": "dose"}}},
   {"transform": [{"filter": "datum.n > 0 || datum.vaccin === 'Janssen'"}],
    "mark": {"type": "point", "filled": true, "size": 95, "opacity": 1},
    "encoding": {"color": {"field": "vaccin", "type": "nominal", "scale": {"domain": ["AstraZeneca","Janssen","Moderna","Pfizer/BioNTech – COMIRNATY"], "range": ["#00B2E5","#F5A623","#00448E","#E2004F"]}},
     "shape": {"field": "dose", "type": "nominal", "scale": {"domain": ["1","2"], "range": ["circle","triangle-up"]}}}}
  ]},
 {"width": 474, "height": 324,
  "view": {"stroke": "#333333", "strokeWidth": 1.5},
  "data": {"name": "vac"},
  "transform": [{"filter": {"field": "dep", "equal": "56"}}],
  "encoding": {
   "x": {"field": "date", "type": "temporal", "scale": {"type": "utc", "domain": [{"year":2020,"month":12,"date":18,"utc":true},{"year":2021,"month":7,"date":8,"utc":true}]},
     "axis": {"title": "Source : VAC-SI, traitement : Santé publique France", "titleX": 474, "titleY": 273, "titleAlign": "right", "titleBaseline": "middle", "titleFontStyle": "italic", "titleFontSize": 19,
       "values": [{"year":2021,"month":1,"date":1,"utc":true},{"year":2021,"month":2,"date":15,"utc":true},{"year":2021,"month":4,"date":1,"utc":true},{"year":2021,"month":5,"date":16,"utc":true},{"year":2021,"month":7,"date":1,"utc":true}],
       "labelExpr": "utcmonth(datum.value) === 0 ? '01 janv.' : utcmonth(datum.value) === 3 ? '01 avr.' : utcmonth(datum.value) === 6 ? '01 juil.' : ''",
       "labelAngle": -45, "labelAlign": "right", "labelBaseline": "top",
       "tickOpacity": {"condition": {"test": "utcmonth(datum.value) % 3 === 0", "value": 1}, "value": 0},
       "gridWidth": {"condition": {"test": "utcmonth(datum.value) % 3 === 0", "value": 1.8}, "value": 0.9}}},
   "y": {"field": "n", "type": "quantitative", "scale": {"domain": [-18100, 433400], "nice": false, "zero": false},
     "axis": {"title": null, "labels": false, "ticks": false,
       "values": [0,50000,100000,150000,200000,250000,300000,350000,400000],
       "gridWidth": {"condition": {"test": "datum.value % 100000 === 0", "value": 1.8}, "value": 0.9}}}
  },
  "layer": [
   {"mark": {"type": "line", "strokeWidth": 9, "strokeCap": "round", "strokeJoin": "round", "interpolate": "monotone"},
    "encoding": {"stroke": {"field": "vaccin", "type": "nominal", "scale": {"domain": ["Pfizer/BioNTech – COMIRNATY","Janssen","Moderna","AstraZeneca"], "range": ["#E2004F","#F5A623","#00448E","#00B2E5"]}, "legend": null},
     "detail": {"field": "dose"}}},
   {"transform": [{"filter": "datum.n > 0 || datum.vaccin === 'Janssen'"}],
    "mark": {"type": "point", "filled": true, "size": 95, "opacity": 1},
    "encoding": {"color": {"field": "vaccin", "type": "nominal", "scale": {"domain": ["AstraZeneca","Janssen","Moderna","Pfizer/BioNTech – COMIRNATY"], "range": ["#00B2E5","#F5A623","#00448E","#E2004F"]}},
     "shape": {"field": "dose", "type": "nominal", "scale": {"domain": ["1","2"], "range": ["circle","triangle-up"]}}}}
  ]}
],
"config": {
 "font": "Liberation Sans",
 "view": {"stroke": null},
 "axis": {"domain": false, "gridColor": "#EBEBEB", "gridOpacity": 1, "tickColor": "#333333", "tickWidth": 1.5, "tickSize": 6, "labelColor": "#4D4D4D", "labelFontSize": 19, "labelPadding": 5, "titleFontSize": 24, "titleFontWeight": "normal", "titleColor": "#000000", "labelOverlap": false, "labelFlush": false},
 "legend": {"orient": "none", "titleFontSize": 24, "titleFontWeight": "normal", "titleColor": "#000000", "labelFontSize": 19, "labelColor": "#000000", "symbolSize": 64, "symbolOffset": 8, "rowPadding": 18, "columnPadding": 27, "titlePadding": 18, "labelLimit": 400, "symbolStrokeWidth": 0}
}
}
